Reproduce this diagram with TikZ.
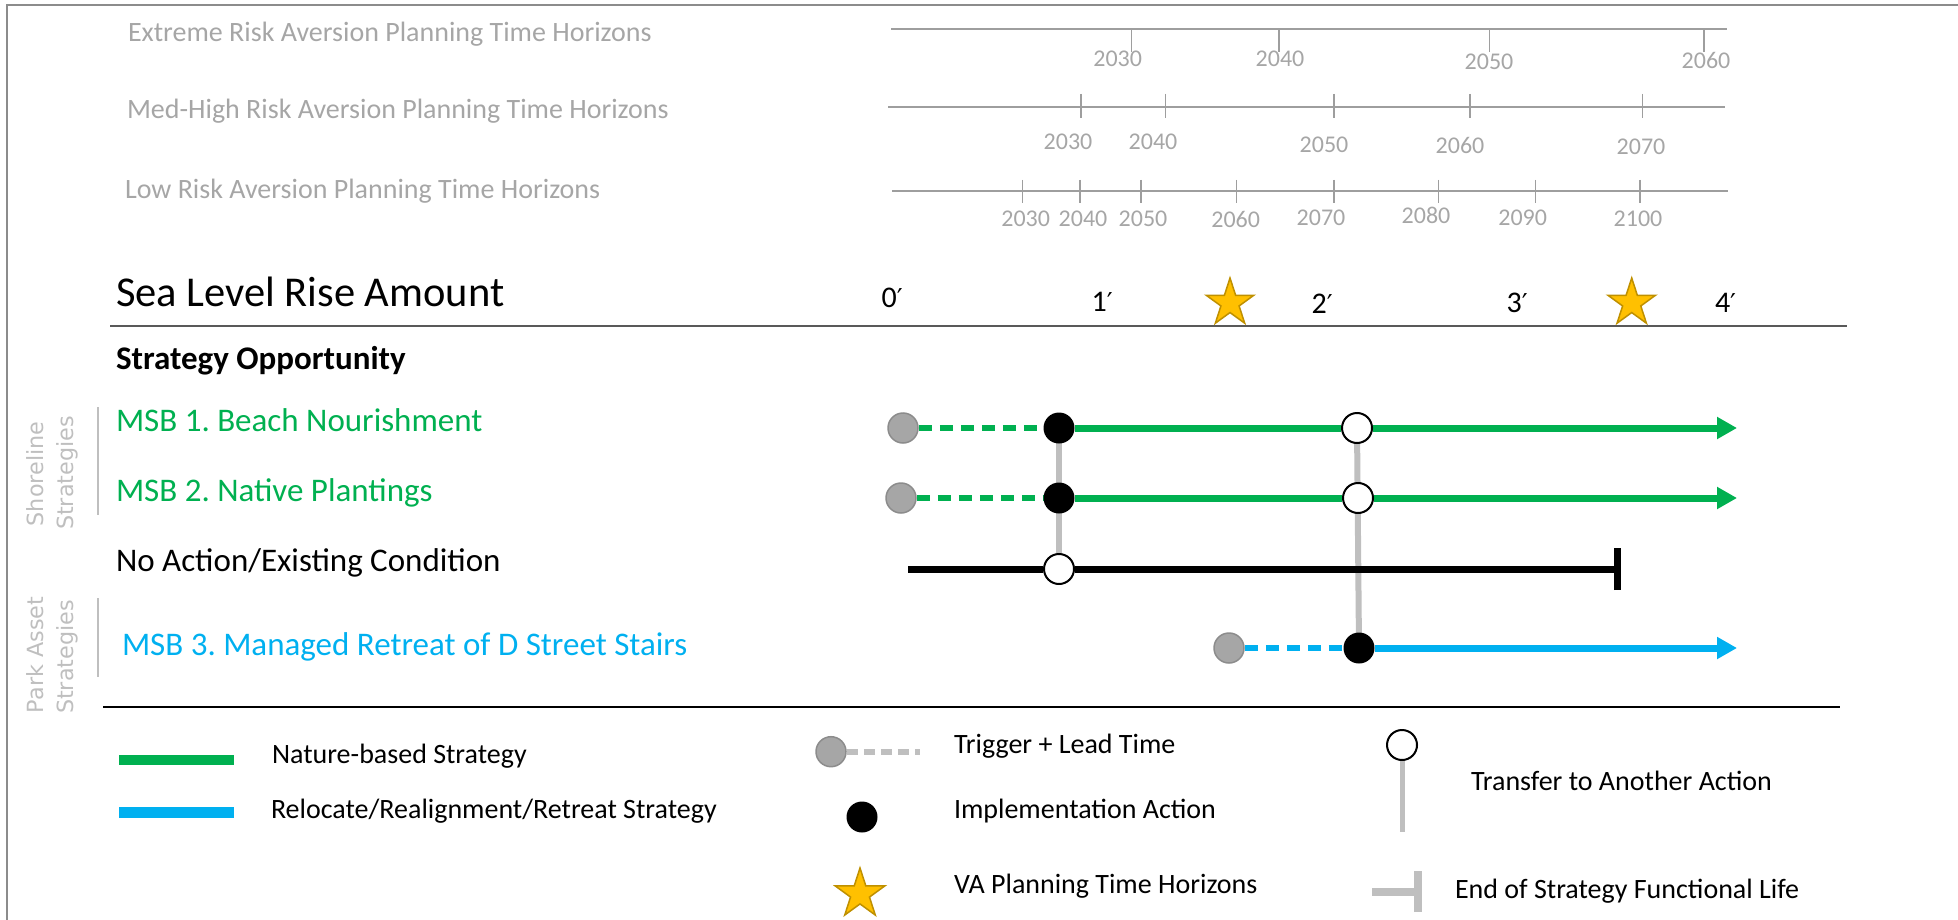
\documentclass[tikz,border=0pt]{standalone}
\usepackage{fontspec}
\setmainfont{Carlito}
\newfontfamily\rotfont{DejaVu Sans}
\usetikzlibrary{arrows.meta,shapes.geometric,backgrounds}
\frenchspacing

\definecolor{natgreen}{HTML}{00B050}
\definecolor{retblue}{HTML}{00B0F0}
\definecolor{stargold}{HTML}{FFC000}
\definecolor{staredge}{HTML}{BF9000}
\definecolor{axisgray}{HTML}{9E9E9E}
\definecolor{labelgray}{HTML}{A6A6A6}
\definecolor{paler}{HTML}{BFBFBF}
\definecolor{trigfill}{HTML}{A6A6A6}
\definecolor{trigedge}{HTML}{8C8C8C}
\definecolor{framegray}{HTML}{8C8C8C}
\definecolor{rulegray}{HTML}{595959}

\newcommand\fsz[1]{\fontsize{#1}{#1}\selectfont}
\newcommand\ft[1]{#1{\rotfont\fsz{26}′}}

\tikzset{
  txt/.style={anchor=base west, inner sep=0pt, outer sep=0pt},
  hdr/.style={txt, text=labelgray, font=\fsz{28}},
  yr/.style={anchor=base, inner sep=0pt, text=labelgray, font=\fsz{24}},
  rowtxt/.style={txt, font=\fsz{33}},
  lgtxt/.style={txt, font=\fsz{28}},
  feet/.style={txt, font=\fsz{30}},
  grp/.style={anchor=base, inner sep=0pt, rotate=90, text=paler, font=\rotfont\fsz{22.3}},
  axis/.style={draw=axisgray, line width=2pt},
  tick/.style={draw=axisgray, line width=1.4pt},
  trig/.style={circle, fill=trigfill, draw=trigedge, line width=1.5pt, minimum size=30pt, inner sep=0pt},
  impl/.style={circle, fill=black, minimum size=31pt, inner sep=0pt},
  xfer/.style={circle, fill=white, draw=black, line width=2pt, minimum size=30pt, inner sep=0pt},
  hz/.style={star, star points=5, star point ratio=2.618, fill=stargold, draw=staredge,
             line width=1.5pt, minimum size=50pt, inner sep=0pt},
  lead/.style={line width=6.5pt, dash pattern=on 13pt off 8pt},
  run/.style={line width=7pt},
  goes/.style={-{Triangle[length=20pt,width=21pt]}},
  link/.style={draw=paler, line width=6pt},
}

\begin{document}
\begin{tikzpicture}[x=1pt, y=-1pt]
\useasboundingbox (0,0) rectangle (1958,920);

% frame
\draw[draw=framegray, line width=2.5pt] (7,920) -- (7,5) -- (1958,5);

% planning horizon headers
\node[hdr] (hext) at (128,42) {Extreme Risk Aversion Planning Time Horizons};
\node[hdr] (hmed) at (127,119) {Med-High Risk Aversion Planning Time Horizons};
\node[hdr] (hlow) at (125,199) {Low Risk Aversion Planning Time Horizons};

% extreme axis
\draw[axis] (891,29) -- (1727,29);
\foreach \tx/\lx/\ly/\yr [count=\i] in {1131.7/1117.7/66.7/2030, 1279/1280/67/2040, 1489.3/1489/69.3/2050, 1704/1706/68.3/2060}{
  \draw[tick] (\tx,29) -- (\tx,52);
  \node[yr] (ey\i) at (\lx,\ly) {\yr};
}

% med-high axis
\draw[axis] (888,106.7) -- (1725,106.7);
\foreach \tx/\lx/\ly/\yr [count=\i] in {1081/1068/150/2030, 1165.7/1153/150/2040, 1334/1324/152.7/2050, 1470/1460/153.3/2060, 1642.3/1641/155/2070}{
  \draw[tick] (\tx,94) -- (\tx,118);
  \node[yr] (my\i) at (\lx,\ly) {\yr};
}

% low axis
\draw[axis] (892,191) -- (1728,191);
\foreach \tx/\lx/\ly/\yr [count=\i] in {1022.7/1025.7/226.7/2030, 1080/1083/226.7/2040, 1141/1143/226.7/2050, 1236.7/1235.7/227/2060, 1334/1321/225/2070, 1438.7/1426/223.3/2080, 1535.7/1522.7/225/2090, 1640/1638/226.7/2100}{
  \draw[tick] (\tx,180) -- (\tx,203);
  \node[yr] (ly\i) at (\lx,\ly) {\yr};
}

% sea level rise scale
\node[txt, font=\fsz{42.5}] (slr) at (116,306.7) {Sea Level Rise Amount};
\node[feet] (f0) at (881.7,307) {\ft{0}};
\node[feet] (f1) at (1091.7,311) {\ft{1}};
\node[feet] (f2) at (1311.7,313) {\ft{2}};
\node[feet] (f3) at (1506.7,312.5) {\ft{3}};
\node[feet] (f4) at (1715,312.5) {\ft{4}};
\node[hz] (s1) at (1230,303) {};
\node[hz] (s2) at (1631.7,303) {};
\draw[draw=rulegray, line width=2pt] (110,326) -- (1847,326);

% strategy labels
\node[txt, font=\bfseries\fsz{33}] (sop) at (116,369) {Strategy Opportunity};
\node[rowtxt, text=natgreen] (r1) at (116,431.7) {MSB 1. Beach Nourishment};
\node[rowtxt, text=natgreen] (r2) at (116,501) {MSB 2. Native Plantings};
\node[rowtxt] (r3) at (116,571) {No Action/Existing Condition};
\node[rowtxt, text=retblue] (r4) at (122,655) {MSB 3. Managed Retreat of D Street Stairs};

% strategy groups
\draw[draw=paler, line width=2.5pt] (98,407) -- (98,515);
\draw[draw=paler, line width=2.5pt] (98,598) -- (98,677);
\node[grp] (gs1) at (43.5,474) {Shoreline};
\node[grp] (gs2) at (73,473) {Strategies};
\node[grp] (gp1) at (43.5,655) {Park Asset};
\node[grp] (gp2) at (73,657) {Strategies};

% pathway markers
\node[trig] (g1) at (903,428) {};
\node[impl] (b1) at (1059,428) {};
\node[xfer] (w1) at (1357,428) {};
\coordinate (e1) at (1737,428);

\node[trig] (g2) at (901,498) {};
\node[impl] (b2) at (1059,498) {};
\node[xfer] (w2) at (1358,498) {};
\coordinate (e2) at (1737,498);

\coordinate (a3) at (908,569);
\node[xfer] (w3) at (1059,569) {};
\coordinate (t3) at (1617,569);

\node[trig] (g4) at (1229,648) {};
\node[impl] (b4) at (1359,648) {};
\coordinate (e4) at (1737,648);

\begin{pgfonlayer}{background}
  % transfers between actions
  \draw[link] (b1.center) -- (w3.center);
  \draw[link] (w1.center) -- (b4.center);
  % MSB 1
  \draw[lead, natgreen] (g1) -- (b1);
  \draw[run, natgreen] (b1) -- (w1);
  \draw[run, natgreen, goes] (w1) -- (e1);
  % MSB 2
  \draw[lead, natgreen] (g2) -- (b2);
  \draw[run, natgreen] (b2) -- (w2);
  \draw[run, natgreen, goes] (w2) -- (e2);
  % no action
  \draw[run, black] (a3) -- (w3) -- (t3);
  % MSB 3
  \draw[lead, retblue] (g4) -- (b4);
  \draw[run, retblue, goes] (b4) -- (e4);
\end{pgfonlayer}
\draw[black, line width=7pt] ([yshift=-21pt]t3) -- ([yshift=21pt]t3);

% legend
\draw[draw=black, line width=2pt] (103,707) -- (1840,707);

\coordinate (lgA) at (119,760);
\coordinate (lgB) at (234,760);
\draw[natgreen, line width=10.5pt] (lgA) -- (lgB);
\node[lgtxt] (ln) at (272,763) {Nature-based Strategy};

\coordinate (lbA) at (119,812.5);
\coordinate (lbB) at (234,812.5);
\draw[retblue, line width=10.5pt] (lbA) -- (lbB);
\node[lgtxt] (lr) at (271,818) {Relocate/Realignment/Retreat Strategy};

\node[trig] (lg) at (831,751.7) {};
\coordinate (lgE) at (920,751.7);
\begin{pgfonlayer}{background}
  \draw[draw=paler, line width=6pt, dash pattern=on 11pt off 6pt] (lg) -- (lgE);
\end{pgfonlayer}
\node[lgtxt] (lt) at (954,753) {Trigger + Lead Time};

\node[impl] (lb) at (862,817) {};
\node[lgtxt] (li) at (954,818) {Implementation Action};

\node[hz, minimum size=52pt] (ls) at (860,894) {};
\node[lgtxt] (lv) at (954,893) {VA Planning Time Horizons};

\node[xfer] (lw) at (1402,745) {};
\coordinate (lwE) at (1402,832);
\begin{pgfonlayer}{background}
  \draw[draw=paler, line width=5pt] (lw.center) -- (lwE);
\end{pgfonlayer}
\node[lgtxt] (lx) at (1471,790) {Transfer to Another Action};

\coordinate (leA) at (1372,892);
\coordinate (leB) at (1418,892);
\draw[draw=paler, line width=8pt] (leA) -- (leB);
\draw[draw=paler, line width=8pt] ([yshift=-20pt]leB) -- ([yshift=21pt]leB);
\node[lgtxt] (le) at (1455,898) {End of Strategy Functional Life};
\end{tikzpicture}
\end{document}
